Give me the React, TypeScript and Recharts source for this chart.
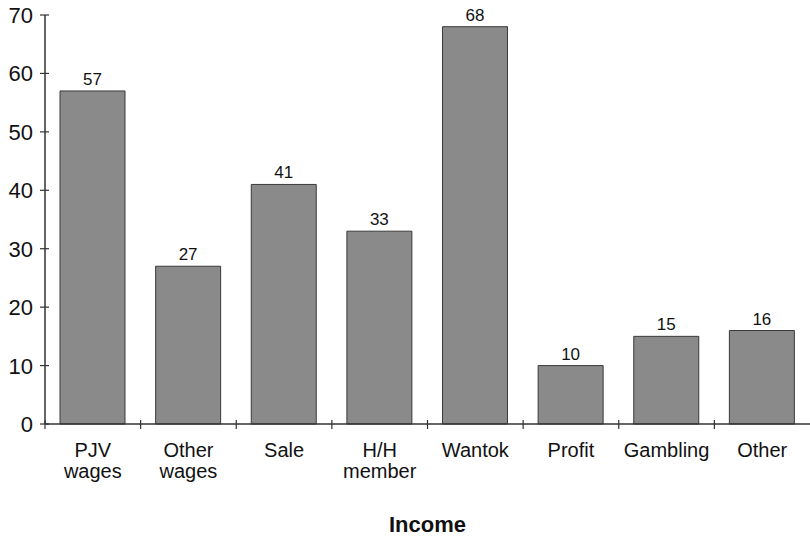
import { BarChart, Bar, XAxis, YAxis, LabelList, Label } from "recharts";

const categories = [
  ["PJV", "wages"],
  ["Other", "wages"],
  ["Sale"],
  ["H/H", "member"],
  ["Wantok"],
  ["Profit"],
  ["Gambling"],
  ["Other"],
];
const values = [57, 27, 41, 33, 68, 10, 15, 16];
const yTicks = [0, 10, 20, 30, 40, 50, 60, 70];

const data = categories.map((lines, i) => ({ name: lines.join(" "), lines, value: values[i] }));

const font = "'Liberation Sans', Arial, Helvetica, sans-serif";

const XTick = (props: any) => {
  const { x, y, payload, index, width, visibleTicksCount } = props;
  const half = width / visibleTicksCount / 2;
  const lines = data[index]?.lines ?? [payload.value];
  return (
    <g>
      <line x1={x - half} x2={x - half} y1={y - 4} y2={y + 5} stroke="#333" strokeWidth={1.2} />
      {lines.map((t: string, i: number) => (
        <text key={i} x={x} y={y + 33 + i * 21} textAnchor="middle" fontSize={20} fill="#111" fontFamily={font}>
          {t}
        </text>
      ))}
    </g>
  );
};

const YTick = (props: any) => {
  const { x, y, payload } = props;
  return (
    <g>
      <line x1={x - 5} x2={x + 4} y1={y} y2={y} stroke="#333" strokeWidth={1.2} />
      <text x={x - 12} y={y + 8} textAnchor="end" fontSize={22} fill="#111" fontFamily={font}>
        {payload.value}
      </text>
    </g>
  );
};

export default function App() {
  return (
    <div style={{ position: "absolute", left: 0, top: 0, background: "#fff" }}>
      <BarChart width={810} height={538} data={data} margin={{ top: 15, right: 0, bottom: 0, left: 0 }}>
        <XAxis
          dataKey="name"
          interval={0}
          height={114}
          tickLine={false}
          tickSize={0}
          tickMargin={0}
          axisLine={{ stroke: "#333", strokeWidth: 1.5 }}
          tick={<XTick />}
        >
          <Label
            value="Income"
            position="insideBottom"
            offset={6}
            style={{ fontFamily: font, fontSize: 22, fontWeight: "bold", fill: "#111" }}
          />
        </XAxis>
        <YAxis
          domain={[0, 70]}
          ticks={yTicks}
          width={45}
          tickLine={false}
          tickSize={0}
          tickMargin={0}
          axisLine={{ stroke: "#333", strokeWidth: 1.5 }}
          tick={<YTick />}
        />
        <Bar dataKey="value" fill="#8a8a8a" stroke="#3a3a3a" strokeWidth={1} barSize={65} isAnimationActive={false}>
          <LabelList dataKey="value" position="top" offset={6} style={{ fontFamily: font, fontSize: 17, fill: "#111" }} />
        </Bar>
      </BarChart>
    </div>
  );
}
